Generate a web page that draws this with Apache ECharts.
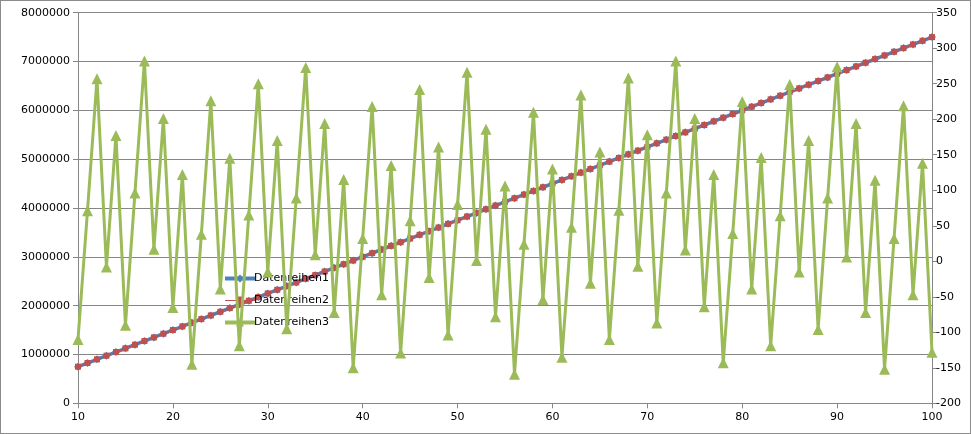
<!DOCTYPE html>
<html>
<head>
<meta charset="utf-8">
<script src="https://cdn.jsdelivr.net/npm/echarts@6/dist/echarts.min.js"></script>
<style>
html,body{margin:0;padding:0;background:#fff;}
#c{width:971px;height:434px;box-sizing:border-box;border:1px solid #8c8c8c;}
</style>
</head>
<body>
<div id="c"></div>
<script>
const xValues = [10,11,12,13,14,15,16,17,18,19,20,21,22,23,24,25,26,27,28,29,30,31,32,33,34,35,36,37,38,39,40,41,42,43,44,45,46,47,48,49,50,51,52,53,54,55,56,57,58,59,60,61,62,63,64,65,66,67,68,69,70,71,72,73,74,75,76,77,78,79,80,81,82,83,84,85,86,87,88,89,90,91,92,93,94,95,96,97,98,99,100];
const seriesNames = ["Datenreihen1","Datenreihen2","Datenreihen3"];
const datenreihen1 = [750000,825000,900000,975000,1050000,1125000,1200000,1275000,1350000,1425000,1500000,1575000,1650000,1725000,1800000,1875000,1950000,2025000,2100000,2175000,2250000,2325000,2400000,2475000,2550000,2625000,2700000,2775000,2850000,2925000,3000000,3075000,3150000,3225000,3300000,3375000,3450000,3525000,3600000,3675000,3750000,3825000,3900000,3975000,4050000,4125000,4200000,4275000,4350000,4425000,4500000,4575000,4650000,4725000,4800000,4875000,4950000,5025000,5100000,5175000,5250000,5325000,5400000,5475000,5550000,5625000,5700000,5775000,5850000,5925000,6000000,6075000,6150000,6225000,6300000,6375000,6450000,6525000,6600000,6675000,6750000,6825000,6900000,6975000,7050000,7125000,7200000,7275000,7350000,7425000,7500000];
const datenreihen2 = [750000,825000,900000,975000,1050000,1125000,1200000,1275000,1350000,1425000,1500000,1575000,1650000,1725000,1800000,1875000,1950000,2025000,2100000,2175000,2250000,2325000,2400000,2475000,2550000,2625000,2700000,2775000,2850000,2925000,3000000,3075000,3150000,3225000,3300000,3375000,3450000,3525000,3600000,3675000,3750000,3825000,3900000,3975000,4050000,4125000,4200000,4275000,4350000,4425000,4500000,4575000,4650000,4725000,4800000,4875000,4950000,5025000,5100000,5175000,5250000,5325000,5400000,5475000,5550000,5625000,5700000,5775000,5850000,5925000,6000000,6075000,6150000,6225000,6300000,6375000,6450000,6525000,6600000,6675000,6750000,6825000,6900000,6975000,7050000,7125000,7200000,7275000,7350000,7425000,7500000];
const datenreihen3 = [-110,71,257,-8,177,-90,96,282,17,201,-65,122,-145,38,226,-39,145,-119,65,250,-15,170,-95,89,273,9,194,-72,115,-150,32,218,-47,135,-129,57,242,-23,161,-104,80,266,1,186,-78,106,-159,24,210,-54,130,-135,48,234,-31,154,-110,72,258,-7,178,-87,96,282,16,201,-64,122,-143,39,225,-39,146,-119,64,249,-15,170,-96,89,274,6,194,-72,114,-152,32,219,-47,138,-128];

const pair = arr => xValues.map((x,i)=>[x,arr[i]]);
const font = "DejaVu Sans";
const axisColor = '#868686';
const chart = echarts.init(document.getElementById('c'));
chart.setOption({
  animation:false,
  textStyle:{fontFamily:font},
  legend:{
    orient:'vertical', left:217, top:267, itemGap:11, itemWidth:30, itemHeight:10,
    textStyle:{fontFamily:font, fontSize:11, color:'#000', padding:[0,0,0,-6]},
    data:[
      {name:seriesNames[0], lineStyle:{width:4, color:'#4F81BD'}},
      {name:seriesNames[1], lineStyle:{width:1, color:'#C0504D'}},
      {name:seriesNames[2], lineStyle:{width:4, color:'#9BBB59'}}
    ]
  },
  grid:{left:77, right:38, top:11.7, bottom:29.7},
  xAxis:{
    type:'value', min:10, max:100, interval:10,
    axisLine:{show:true, lineStyle:{color:axisColor}},
    axisTick:{show:true, length:5, lineStyle:{color:axisColor}},
    axisLabel:{color:'#000', fontSize:11, fontFamily:font, margin:8},
    splitLine:{show:false}
  },
  yAxis:[{
    type:'value', min:0, max:8000000, interval:1000000, position:'left',
    axisLine:{show:true, lineStyle:{color:axisColor}},
    axisTick:{show:true, length:5, lineStyle:{color:axisColor}},
    axisLabel:{color:'#000', fontSize:11, fontFamily:font, margin:8, formatter:v=>String(v)},
    splitLine:{show:true, lineStyle:{color:axisColor, width:1}}
  },{
    type:'value', min:-200, max:350, interval:50, position:'right',
    axisLine:{show:true, lineStyle:{color:axisColor}},
    axisTick:{show:true, length:5, lineStyle:{color:axisColor}},
    axisLabel:{color:'#000', fontSize:11, fontFamily:font, margin:4, formatter:v=>String(v)},
    splitLine:{show:false}
  }],
  series:[{
    name:seriesNames[0], type:'line', yAxisIndex:0, data:pair(datenreihen1),
    symbol:'diamond', symbolSize:8, showAllSymbol:true,
    lineStyle:{color:'#4F81BD', width:3.5},
    itemStyle:{color:'#4F81BD'}, z:2
  },{
    name:seriesNames[1], type:'line', yAxisIndex:0, data:pair(datenreihen2),
    symbol:'rect', symbolSize:6, showAllSymbol:true,
    lineStyle:{color:'#C0504D', width:1},
    itemStyle:{color:'#C0504D'}, z:3
  },{
    name:seriesNames[2], type:'line', yAxisIndex:1, data:pair(datenreihen3),
    symbol:'triangle', symbolSize:11, showAllSymbol:true,
    lineStyle:{color:'#9BBB59', width:3},
    itemStyle:{color:'#9BBB59'}, z:4
  }]
});
</script>
</body>
</html>
